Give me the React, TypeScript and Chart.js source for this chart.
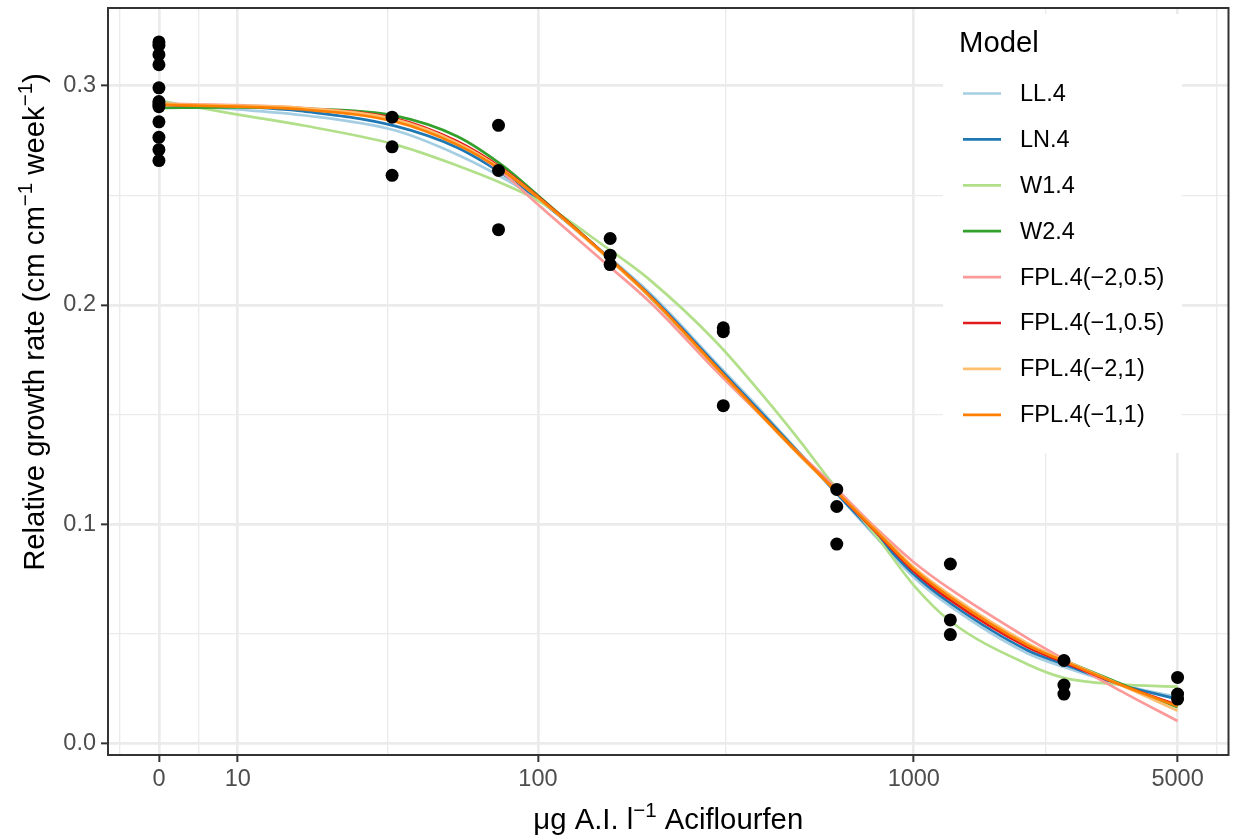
import React, { useEffect, useRef } from "react";
import { Chart, registerables } from "chart.js";
Chart.register(...registerables);

// ---------------- data ----------------
const POINT_DOSE = [
  0, 0, 0, 0, 0, 0, 0, 0, 0, 0, 0, 0,
  39.06, 39.06, 39.06,
  78.13, 78.13, 78.13,
  156.25, 156.25, 156.25,
  312.5, 312.5, 312.5,
  625, 625, 625,
  1250, 1250, 1250,
  2500, 2500, 2500,
  5000, 5000, 5000,
];
const POINT_RGR = [
  0.3199, 0.3184, 0.3141, 0.3095, 0.299, 0.2927, 0.2914, 0.2904, 0.2835, 0.2764, 0.2708, 0.2658,
  0.2856, 0.2721, 0.2591,
  0.2819, 0.2613, 0.2343,
  0.2303, 0.2227, 0.2184,
  0.1896, 0.1878, 0.1541,
  0.1159, 0.1081, 0.091,
  0.0819, 0.0564, 0.0497,
  0.0379, 0.0267, 0.0226,
  0.0302, 0.0226, 0.0203,
];

const CURVE_DOSE = [0, 10, 20, 40, 60, 80, 100, 150, 200, 300, 400, 500, 600, 800, 1000, 1250, 2000, 2500, 3500, 5000];
const LL4 = [0.2917, 0.2891, 0.2865, 0.2795, 0.2686, 0.2581, 0.2481, 0.2239, 0.2052, 0.1733, 0.1506, 0.1323, 0.1173, 0.0936, 0.0759, 0.0626, 0.0412, 0.0349, 0.0271, 0.0212];
const LN4 = [0.2913, 0.2904, 0.2883, 0.2815, 0.2718, 0.2599, 0.2485, 0.2235, 0.2043, 0.1724, 0.1497, 0.1319, 0.1173, 0.0945, 0.0772, 0.064, 0.0426, 0.0362, 0.0271, 0.0203];
const W14 = [0.2932, 0.2868, 0.2818, 0.2731, 0.2636, 0.2554, 0.2476, 0.2271, 0.2112, 0.1829, 0.1583, 0.1378, 0.12, 0.0941, 0.0722, 0.0558, 0.0362, 0.03, 0.027, 0.026];
const W24 = [0.2898, 0.2901, 0.2895, 0.2862, 0.2769, 0.2636, 0.2499, 0.2235, 0.2034, 0.1711, 0.1487, 0.1319, 0.1182, 0.0968, 0.08, 0.0672, 0.0453, 0.038, 0.0276, 0.0166];
const FPL_M2_05 = [0.2918, 0.2911, 0.2898, 0.2845, 0.274, 0.2604, 0.2458, 0.2198, 0.2011, 0.1697, 0.1483, 0.1319, 0.1191, 0.0977, 0.0827, 0.0704, 0.0481, 0.0385, 0.0244, 0.0103];
const FPL_M1_05 = [0.2913, 0.2907, 0.2895, 0.285, 0.2746, 0.2622, 0.2494, 0.2235, 0.2038, 0.1715, 0.1487, 0.1314, 0.1178, 0.0959, 0.0786, 0.0654, 0.044, 0.0371, 0.0271, 0.0175];
const FPL_M2_1 = [0.2916, 0.2909, 0.2898, 0.2845, 0.274, 0.2617, 0.249, 0.223, 0.2034, 0.1711, 0.1483, 0.131, 0.1178, 0.0968, 0.0804, 0.0677, 0.0458, 0.038, 0.0271, 0.015];
const FPL_M1_1 = [0.2913, 0.2904, 0.2891, 0.2835, 0.2731, 0.2613, 0.249, 0.2235, 0.2038, 0.1715, 0.1487, 0.1314, 0.1178, 0.0964, 0.0795, 0.0667, 0.0449, 0.0376, 0.0271, 0.0171];

const MODEL_NAMES = ["LL.4", "LN.4", "W1.4", "W2.4", "FPL.4(\u22122,0.5)", "FPL.4(\u22121,0.5)", "FPL.4(\u22122,1)", "FPL.4(\u22121,1)"];
const MODEL_VALUES = [LL4, LN4, W14, W24, FPL_M2_05, FPL_M1_05, FPL_M2_1, FPL_M1_1];
const MODEL_COLORS = ["#A6CEE3", "#1F78B4", "#B2DF8A", "#33A02C", "#FB9A99", "#E31A1C", "#FDBF6F", "#FF7F00"];

const X_BREAKS = [0, 10, 100, 1000, 5000];
const X_LABELS = ["0", "10", "100", "1000", "5000"];
const Y_BREAKS = [0, 0.1, 0.2, 0.3];
const Y_LABELS = ["0.0", "0.1", "0.2", "0.3"];
const Y_MINOR = [0.05, 0.15, 0.25];

// ---------------- helpers ----------------
const SIGMA = 10;
const tr = (d: number) => Math.asinh(d / (2 * SIGMA));
const FONT = "'Liberation Sans', Arial, Helvetica, sans-serif";
const TICK_SIZE = 23.5;
const TITLE_SIZE = 29.3;

const txMajor = X_BREAKS.map(tr);
const txMinor = (() => {
  const bd = txMajor[1] - txMajor[0];
  const ext = [txMajor[0] - bd, ...txMajor, txMajor[txMajor.length - 1] + bd];
  const out: number[] = [];
  for (let i = 0; i < ext.length - 1; i++) out.push((ext[i] + ext[i + 1]) / 2);
  return out;
})();

const allY = [...POINT_RGR, ...MODEL_VALUES.flat()];
const yLo = Math.min(...allY);
const yHi = Math.max(...allY);
const Y_MIN = yLo - 0.05 * (yHi - yLo);
const Y_MAX = yHi + 0.05 * (yHi - yLo);
const xLo = tr(Math.min(...POINT_DOSE, ...CURVE_DOSE));
const xHi = tr(Math.max(...POINT_DOSE, ...CURVE_DOSE));
const X_MIN = xLo - 0.05 * (xHi - xLo);
const X_MAX = xHi + 0.05 * (xHi - xLo);

const near = (a: number, b: number) => Math.abs(a - b) < 1e-9;
const isXMajor = (v: number) => txMajor.some((m) => near(m, v));
const isYMajor = (v: number) => Y_BREAKS.some((m) => near(m, v));

type Part = { t: string; sup?: boolean };
function drawRich(ctx: CanvasRenderingContext2D, parts: Part[], x: number, y: number, size: number) {
  const widths = parts.map((p) => {
    ctx.font = `${p.sup ? size * 0.7 : size}px ${FONT}`;
    return ctx.measureText(p.t).width;
  });
  const total = widths.reduce((a, b) => a + b, 0);
  let cx = x - total / 2;
  ctx.textAlign = "left";
  ctx.textBaseline = "alphabetic";
  parts.forEach((p, i) => {
    ctx.font = `${p.sup ? size * 0.7 : size}px ${FONT}`;
    ctx.fillText(p.t, cx, p.sup ? y - size * 0.42 : y);
    cx += widths[i];
  });
}

const decorPlugin = {
  id: "decor",
  afterDraw(chart: any) {
    const ctx: CanvasRenderingContext2D = chart.ctx;
    const a = chart.chartArea;
    ctx.save();
    // legend box
    const lx = 943, ly = 14, lw = 239, lh = 439;
    ctx.fillStyle = "#FFFFFF";
    ctx.fillRect(lx, ly, lw, lh);
    ctx.fillStyle = "#000000";
    ctx.font = `${TITLE_SIZE}px ${FONT}`;
    ctx.textAlign = "left";
    ctx.textBaseline = "alphabetic";
    ctx.fillText("Model", 959, 52);
    MODEL_NAMES.forEach((name, i) => {
      const cy = 93.5 + i * 45.9;
      ctx.strokeStyle = MODEL_COLORS[i];
      ctx.lineWidth = 2.7;
      ctx.beginPath();
      ctx.moveTo(963, cy);
      ctx.lineTo(1001, cy);
      ctx.stroke();
      ctx.fillStyle = "#000000";
      ctx.font = `${TICK_SIZE}px ${FONT}`;
      ctx.textBaseline = "middle";
      ctx.fillText(name, 1020, cy + 1);
    });
    // panel border
    ctx.strokeStyle = "#333333";
    ctx.lineWidth = 2;
    ctx.strokeRect(a.left, a.top, a.right - a.left, a.bottom - a.top);
    // axis titles
    ctx.fillStyle = "#000000";
    drawRich(ctx, [{ t: "\u03bcg A.I. l" }, { t: "\u22121", sup: true }, { t: " Aciflourfen" }], (a.left + a.right) / 2, 829, TITLE_SIZE);
    ctx.translate(44, 322);
    ctx.rotate(-Math.PI / 2);
    drawRich(
      ctx,
      [{ t: "Relative growth rate (cm cm" }, { t: "\u22121", sup: true }, { t: " week" }, { t: "\u22121", sup: true }, { t: ")" }],
      0,
      0,
      TITLE_SIZE
    );
    ctx.restore();
  },
};

export default function App() {
  const ref = useRef<HTMLCanvasElement | null>(null);
  useEffect(() => {
    if (!ref.current) return;
    const curveSets = MODEL_NAMES.map((name, i) => ({
      type: "line" as const,
      label: name,
      data: CURVE_DOSE.map((d, j) => ({ x: tr(d), y: MODEL_VALUES[i][j] })),
      borderColor: MODEL_COLORS[i],
      borderWidth: 2.7,
      pointRadius: 0,
      fill: false,
      cubicInterpolationMode: "monotone" as const,
      order: 10 - i,
    }));
    const pointSet = {
      type: "scatter" as const,
      label: "obs",
      data: POINT_DOSE.map((d, i) => ({ x: tr(d), y: POINT_RGR[i] })),
      backgroundColor: "#000000",
      borderColor: "#000000",
      borderWidth: 0,
      pointRadius: 6.5,
      showLine: false,
      order: 0,
    };
    const chart = new Chart(ref.current, {
      type: "line",
      data: { datasets: [pointSet as any, ...curveSets] },
      options: {
        animation: false,
        responsive: false,
        devicePixelRatio: 1,
        layout: { padding: { left: 0, right: 5, top: 8, bottom: 0 } },
        plugins: { legend: { display: false }, tooltip: { enabled: false } },
        scales: {
          x: {
            type: "linear",
            min: X_MIN,
            max: X_MAX,
            afterBuildTicks: (s: any) => {
              s.ticks = [...txMajor, ...txMinor.filter((v) => v > X_MIN && v < X_MAX)].map((v) => ({ value: v }));
            },
            afterFit: (s: any) => {
              s.height = 82;
              s.paddingLeft = 0;
              s.paddingRight = 0;
              s.paddingTop = 0;
              s.paddingBottom = 0;
            },
            border: { display: false },
            grid: {
              color: "#EBEBEB",
              lineWidth: (c: any) => (c.tick && isXMajor(c.tick.value) ? 2.7 : 1.35),
              drawTicks: true,
              tickLength: 7,
              tickWidth: 2,
              tickColor: (c: any) => (c.tick && isXMajor(c.tick.value) ? "#333333" : "rgba(0,0,0,0)"),
            },
            ticks: {
              autoSkip: false,
              maxRotation: 0,
              minRotation: 0,
              padding: 3,
              color: "#4D4D4D",
              font: { family: FONT, size: TICK_SIZE },
              callback: (v: any) => {
                const k = txMajor.findIndex((m) => near(m, Number(v)));
                return k >= 0 ? X_LABELS[k] : "";
              },
            },
          },
          y: {
            type: "linear",
            min: Y_MIN,
            max: Y_MAX,
            afterBuildTicks: (s: any) => {
              s.ticks = [...Y_BREAKS, ...Y_MINOR].map((v) => ({ value: v }));
            },
            afterFit: (s: any) => {
              s.width = 108;
              s.paddingLeft = 0;
              s.paddingRight = 0;
              s.paddingTop = 0;
              s.paddingBottom = 0;
            },
            border: { display: false },
            grid: {
              color: "#EBEBEB",
              lineWidth: (c: any) => (c.tick && isYMajor(c.tick.value) ? 2.7 : 1.35),
              drawTicks: true,
              tickLength: 7,
              tickWidth: 2,
              tickColor: (c: any) => (c.tick && isYMajor(c.tick.value) ? "#333333" : "rgba(0,0,0,0)"),
            },
            ticks: {
              autoSkip: false,
              padding: 5,
              color: "#4D4D4D",
              font: { family: FONT, size: TICK_SIZE },
              callback: (v: any) => {
                const k = Y_BREAKS.findIndex((m) => near(m, Number(v)));
                return k >= 0 ? Y_LABELS[k] : "";
              },
            },
          },
        },
      },
      plugins: [decorPlugin],
    });
    return () => chart.destroy();
  }, []);
  return (
    <div style={{ position: "absolute", left: 0, top: 0, width: 1235, height: 837, background: "#FFFFFF" }}>
      <canvas ref={ref} width={1235} height={837} style={{ display: "block" }} />
    </div>
  );
}
